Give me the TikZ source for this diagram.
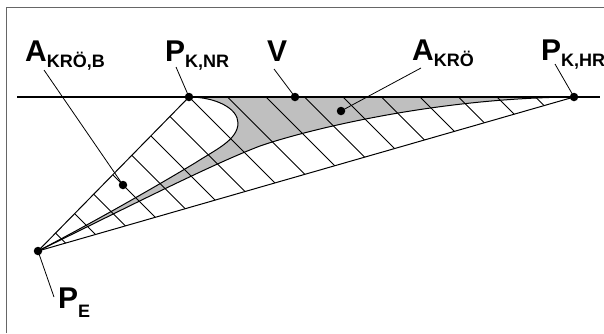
\documentclass[tikz,border=0pt]{standalone}
\usepackage{fontspec}
\setmainfont{Liberation Sans}
\newcommand{\plab}[3]{\fontsize{30}{30}\selectfont\bfseries #1\raisebox{-#3}{\fontsize{18}{18}\selectfont #2}}
\begin{document}
\begin{tikzpicture}[x=1pt,y=-1pt,
  mainline/.style={line width=1pt, black},
  hatch/.style={line width=0.9pt, black},
  dot/.style={circle, fill=black, inner sep=0pt, minimum size=8.5pt},
  lab/.style={inner sep=0pt, anchor=base west},
  leader/.style={line width=0.8pt, black},
  frame/.style={line width=1pt, black!60},
  area/.style={fill=black!25}]
\useasboundingbox (0,0) rectangle (604,333);
% frame
\coordinate (fbl) at (6,333);
\coordinate (ftl) at (6,7);
\coordinate (ftr) at (604,7);
\draw[frame] (fbl) -- (ftl) -- (ftr);
% key points
\coordinate (PE) at (38,251);
\coordinate (PKNR) at (189,97);
\coordinate (PKHR) at (574,97);
\coordinate (hl) at (17,97);
\coordinate (hr) at (600,97);
% grey area
\path[area] (PKNR) -- (PKHR) .. controls (430,98) and (300,132) .. (260,146)
  .. controls (210,165) and (120,211) .. (PE)
  .. controls (90,224) and (150,190) .. (195,163)
  .. controls (215,150) and (238,140) .. (238,123)
  .. controls (238,108) and (215,97) .. (PKNR) -- cycle;
% hatching
\begin{scope}
  \clip (PE) -- (PKNR) -- (PKHR) -- cycle;
  \foreach \k in {-7,...,9} {
    \draw[hatch] ({92+38.5*\k},0) -- ({92+38.5*\k+340},340);
  }
\end{scope}
% curves
\draw[mainline] (PKHR) .. controls (430,98) and (300,132) .. (260,146)
  .. controls (210,165) and (120,211) .. (PE);
\draw[mainline] (PE) .. controls (90,224) and (150,190) .. (195,163)
  .. controls (215,150) and (238,140) .. (238,123)
  .. controls (238,108) and (215,97) .. (PKNR);
% triangle edges and base line
\draw[mainline] (PE) -- (PKNR);
\draw[mainline] (PE) -- (PKHR);
\draw[line width=1.1pt] (hl) -- (hr);
% dots
\node[dot] (dPE) at (PE) {};
\node[dot] (dPKNR) at (PKNR) {};
\node[dot] (dPKHR) at (PKHR) {};
\node[dot] (dV) at (295,97) {};
\node[dot] (dAK) at (341,111) {};
\node[dot] (dAKB) at (123,185) {};
% labels
\node[lab] (lAKB) at (25,61) {\plab{A}{KRÖ,B}{6pt}};
\node[lab] (lPKNR) at (165,61) {\plab{P}{K,NR}{6pt}};
\node[lab] (lV) at (267,61) {\fontsize{30}{30}\selectfont\bfseries V};
\node[lab] (lAK) at (412,60) {\plab{A}{KRÖ}{6pt}};
\node[lab] (lPKHR) at (541,60) {\plab{P}{K,HR}{6pt}};
\node[lab] (lPE) at (58,308) {\plab{P}{E}{9pt}};
% leader lines
\coordinate (tAKB) at (44,70);
\coordinate (tPKNR) at (176,67);
\coordinate (tV) at (274,69);
\coordinate (tAK) at (421,68);
\coordinate (tPKHR) at (555,64);
\coordinate (tPE) at (54,297);
\draw[leader] (tAKB) -- (dAKB.center);
\draw[leader] (tPKNR) -- (dPKNR.center);
\draw[leader] (tV) -- (dV.center);
\draw[leader] (tAK) -- (dAK.center);
\draw[leader] (tPKHR) -- (dPKHR.center);
\draw[leader] (tPE) -- (dPE.center);
\end{tikzpicture}
\end{document}
